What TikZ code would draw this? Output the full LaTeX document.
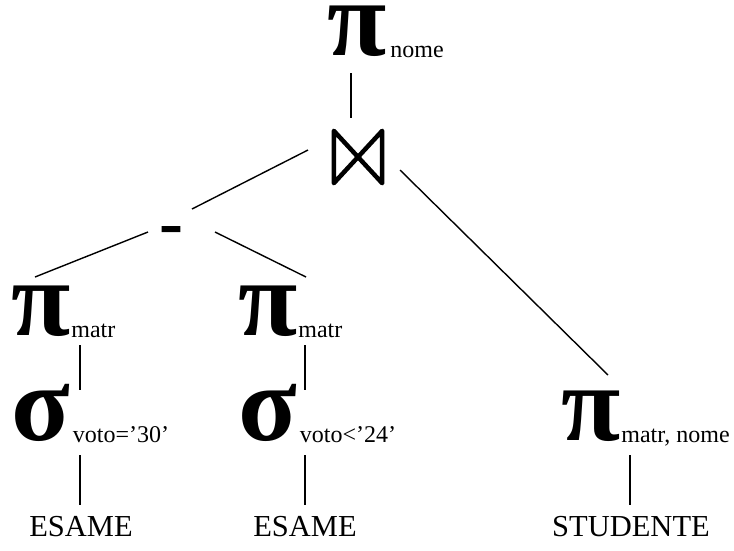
\documentclass[tikz,border=0pt]{standalone}
\usepackage{fontspec}
\setmainfont{Liberation Serif}
\usetikzlibrary{calc}
\newcommand\grkbig{\fontsize{108}{108}\selectfont\bfseries}
\newcommand\subtxt[2][1pt]{\hspace{#1}\raisebox{-2pt}{\fontsize{24}{26}\selectfont\mdseries #2}}
\begin{document}
\begin{tikzpicture}[x=1pt,y=-1pt,
  op/.style={inner sep=0pt, anchor=base west, font=\grkbig, text height=46pt, text depth=4pt},
  rel/.style={inner sep=0pt, font=\fontsize{30.5}{33}\selectfont},
  conn/.style={line width=1.4pt}]
\useasboundingbox (0,0) rectangle (734,550);
% operators
\node[op] (p0) at (327,55) {π\subtxt[4pt]{nome}};
\node[inner sep=0pt, minimum width=48pt, minimum height=52pt] (join) at (358,157) {};
\draw[line width=4.5pt, line join=round]
  (join.north west) -- (join.south west) -- (join.north east) -- (join.south east) -- cycle;
\node[inner sep=0pt, font=\fontsize{72}{72}\selectfont\bfseries] (minus) at (171,236) {-};
\node[op] (p1) at (11,335) {π\subtxt{matr}};
\node[op] (p2) at (238,335) {π\subtxt{matr}};
\node[op] (s1) at (11,440) {σ\subtxt[3pt]{voto=’30’}};
\node[op] (s2) at (238,440) {σ\subtxt[3pt]{voto<’24’}};
\node[op] (p3) at (561,440) {π\subtxt{matr, nome}};
% relations
\node[rel] (e1) at (81,527) {ESAME};
\node[rel] (e2) at (305,527) {ESAME};
\node[rel] (e3) at (631,527) {STUDENTE};
% connectors
\draw[conn] ($(p0.base west)+(24,18)$) -- ($(join)+(-7,-39)$);
\draw[conn] ($(join)+(-50,-7)$) -- ($(minus)+(21,-27)$);
\draw[conn] ($(minus)+(-23,-4)$) -- ($(p1.base west)+(24,-58)$);
\draw[conn] ($(minus)+(44,-4)$) -- ($(p2.base west)+(68,-58)$);
\draw[conn] ($(join)+(42,13)$) -- ($(p3.base west)+(47,-65)$);
\draw[conn] ($(p1.base west)+(69,10)$) -- ($(s1.base west)+(69,-50)$);
\draw[conn] ($(p2.base west)+(67,10)$) -- ($(s2.base west)+(67,-50)$);
\draw[conn] ($(s1.base west)+(69,15)$) -- ($(e1)+(-1,-22)$);
\draw[conn] ($(s2.base west)+(67,15)$) -- ($(e2)+(0,-22)$);
\draw[conn] ($(p3.base west)+(69,15)$) -- ($(e3)+(-1,-22)$);
\end{tikzpicture}
\end{document}
